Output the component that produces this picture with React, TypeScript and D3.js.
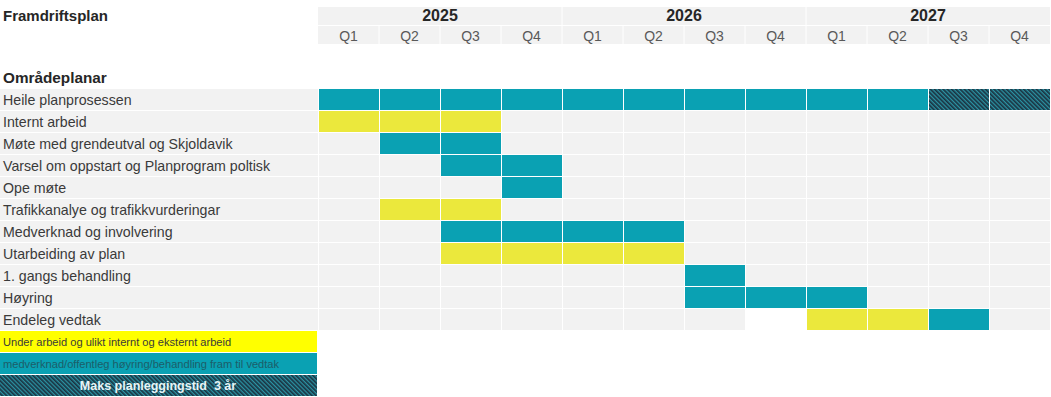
import * as d3 from 'd3'

const years = ['2025', '2026', '2027']
const quarters = ['Q1', 'Q2', 'Q3', 'Q4']
const tasks = [
  'Heile planprosessen',
  'Internt arbeid',
  'Møte med grendeutval og Skjoldavik',
  'Varsel om oppstart og Planprogram poltisk',
  'Ope møte',
  'Trafikkanalye og trafikkvurderingar',
  'Medverknad og involvering',
  'Utarbeiding av plan',
  '1. gangs behandling',
  'Høyring',
  'Endeleg vedtak',
]
// [task index, first quarter, last quarter, kind]
const spans: [number, number, number, string][] = [
  [0, 0, 9, 'teal'],
  [0, 10, 11, 'hatch'],
  [1, 0, 2, 'yellow'],
  [2, 1, 2, 'teal'],
  [3, 2, 3, 'teal'],
  [4, 3, 3, 'teal'],
  [5, 1, 2, 'yellow'],
  [6, 2, 5, 'teal'],
  [7, 2, 5, 'yellow'],
  [8, 6, 6, 'teal'],
  [9, 6, 8, 'teal'],
  [10, 8, 9, 'yellow'],
  [10, 10, 10, 'teal'],
]
// cells left blank (white) in the sheet
const blanks: [number, number][] = [[10, 7]]
const legend = [
  { text: 'Under arbeid og ulikt internt og eksternt arbeid', kind: 'legendYellow' },
  { text: 'medverknad/offentleg høyring/behandling fram til vedtak', kind: 'teal' },
  { text: 'Maks planleggingstid  3 år', kind: 'hatch' },
]

const W = 1051
const H = 397
const LEFT = 318
const RIGHT = 1050
const GREY = '#f2f2f2'
const TEAL = '#0aa1b3'
const YELLOW = '#ebe83c'
const FONT = '"Liberation Sans", Arial, sans-serif'

const fills: Record<string, string> = {
  teal: TEAL,
  yellow: YELLOW,
  legendYellow: '#ffff00',
  hatch: 'url(#hatch)',
}

export default function App() {
  const cols = years.flatMap((y) => quarters.map((q) => `${y}-${q}`))
  const x = d3.scaleBand<string>().domain(cols).range([LEFT, RIGHT])
  const xYear = d3.scaleBand<string>().domain(years).range([LEFT, RIGHT])
  const y = d3
    .scaleBand<number>()
    .domain(d3.range(tasks.length))
    .range([89, 89 + 22 * tasks.length])
  const yLeg = d3
    .scaleBand<number>()
    .domain(d3.range(legend.length))
    .range([331, 397])
  const bw = x.bandwidth()
  const bh = y.bandwidth()

  const cells: { r: number; c: number; kind: string }[] = []
  spans.forEach(([r, a, b, kind]) => {
    for (let c = a; c <= b; c++) cells.push({ r, c, kind })
  })

  return (
    <svg
      width={W}
      height={H}
      style={{ position: 'absolute', left: 0, top: 0, background: 'white' }}
      fontFamily={FONT}
    >
      <defs>
        <pattern id="hatch" width={3} height={3} patternUnits="userSpaceOnUse" patternTransform="rotate(45)">
          <rect width={3} height={3} fill="#1a3342" />
          <rect width={3} height={1.3} fill="#2b93a3" />
        </pattern>
      </defs>

      {/* header */}
      <rect x={LEFT} y={7} width={RIGHT - LEFT} height={37} fill={GREY} />
      <line x1={LEFT} x2={RIGHT} y1={25.5} y2={25.5} stroke="white" strokeWidth={1} />
      {cols.map((c, i) =>
        i > 0 ? (
          <line
            key={c}
            x1={x(c)!}
            x2={x(c)!}
            y1={i % 4 === 0 ? 7 : 25}
            y2={44}
            stroke="white"
            strokeWidth={1}
          />
        ) : null
      )}
      {years.map((yr) => (
        <text
          key={yr}
          x={xYear(yr)! + xYear.bandwidth() / 2}
          y={21}
          textAnchor="middle"
          fontSize={16}
          fontWeight={700}
          fill="#262626"
        >
          {yr}
        </text>
      ))}
      {cols.map((c) => (
        <text key={c} x={x(c)! + bw / 2} y={40.5} textAnchor="middle" fontSize={14} fill="#595959">
          {c.split('-')[1]}
        </text>
      ))}

      <text x={3} y={21} fontSize={15} fontWeight={700} fill="#262626">
        Framdriftsplan
      </text>
      <text x={3} y={83} fontSize={15.3} fontWeight={700} fill="#262626">
        Områdeplanar
      </text>

      {/* rows */}
      {tasks.map((t, r) => (
        <g key={t}>
          <rect x={0} y={y(r)!} width={LEFT} height={bh - 1} fill={GREY} />
          <text x={3} y={y(r)! + 16} fontSize={14.2} fill="#3a3a3a">
            {t}
          </text>
          {cols.map((c, ci) => {
            const blank = blanks.some(([br, bc]) => br === r && bc === ci)
            return (
              <rect
                key={c}
                x={x(c)! + 1}
                y={y(r)!}
                width={bw - 1}
                height={bh - 1}
                fill={blank ? 'white' : GREY}
              />
            )
          })}
        </g>
      ))}

      {cells.map((d, i) => (
        <rect
          key={i}
          x={x(cols[d.c])! + 1}
          y={y(d.r)!}
          width={bw - 1}
          height={bh - 1}
          fill={fills[d.kind]}
        />
      ))}

      {/* legend */}
      {legend.map((l, i) => (
        <g key={l.text}>
          <rect x={0} y={yLeg(i)!} width={LEFT - 1} height={yLeg.bandwidth() - 1} fill={fills[l.kind]} />
          {l.kind === 'hatch' ? (
            <text
              x={158}
              y={yLeg(i)! + 15}
              textAnchor="middle"
              fontSize={12.5}
              fontWeight={700}
              fill="#e8f4f6"
              style={{ whiteSpace: 'pre' }}
            >
              {l.text}
            </text>
          ) : (
            <text
              x={3}
              y={yLeg(i)! + 15}
              fontSize={11.1}
              fill={l.kind === 'teal' ? '#1d5d68' : '#3a3a3a'}
            >
              {l.text}
            </text>
          )}
        </g>
      ))}
    </svg>
  )
}
